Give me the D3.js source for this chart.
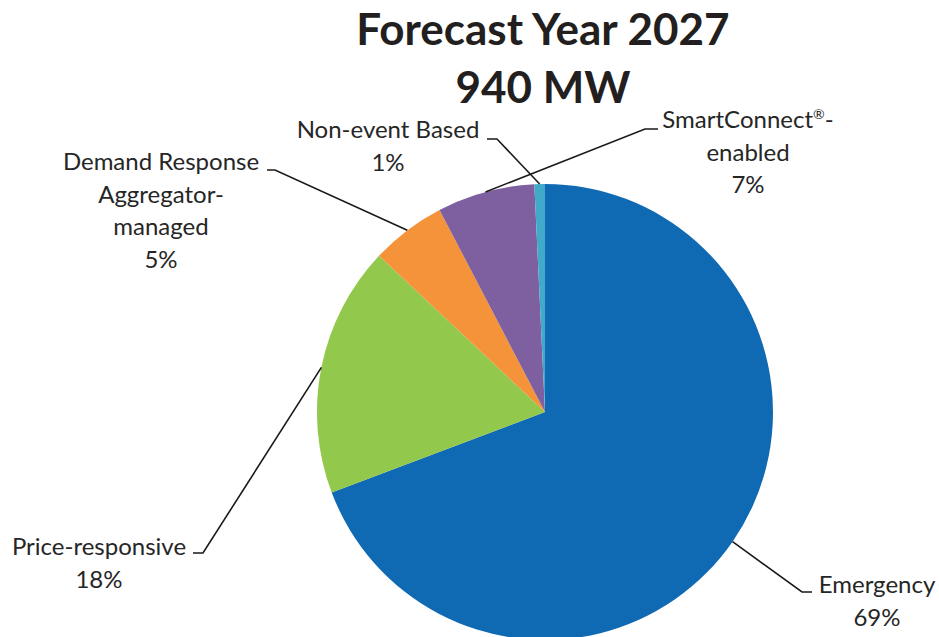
<!DOCTYPE html>
<html>
<head>
<meta charset="utf-8">
<script src="https://cdn.jsdelivr.net/npm/d3@7"></script>
<style>
  html, body { margin: 0; padding: 0; background: #ffffff; }
  svg { display: block; }
  text { font-family: Lato, "Open Sans", sans-serif; fill: #262626; }
</style>
</head>
<body>
<svg id="chart" width="939" height="637"></svg>
<script>
// Demand-response program mix, forecast year 2027 (MW)
const titleLines = ["Forecast Year 2027", "940 MW"];
const categories = ["Emergency", "Price-responsive", "Demand Response Aggregator-managed", "SmartConnect®-enabled", "Non-event Based"];
const values = [651, 167, 50, 65, 7];
const colors = ["#1069b3", "#92c84b", "#f5933a", "#7e60a0", "#41a9c9"];
// How each category name wraps onto lines in its label
const labelLines = [
  ["Emergency"],
  ["Price-responsive"],
  ["Demand Response", "Aggregator-", "managed"],
  ["SmartConnect®-", "enabled"],
  ["Non-event Based"]
];

// Layout: label centre / first baseline, and leader-line elbow points
const layout = [
  { cx: 877, y: 593, elbow: [802, 592], end: [812, 592] },
  { cx: 99,  y: 555, elbow: [203, 553], end: [193, 553] },
  { cx: 161, y: 170, elbow: [275, 170], end: [267, 170] },
  { cx: 748, y: 128, elbow: [645, 129], end: [658, 129] },
  { cx: 388, y: 138, elbow: [497, 139], end: [487, 139] }
];

const width = 939, height = 637;
const cx = 545, cy = 412, radius = 228;
const lineH = 32.5;

const svg = d3.select("#chart");

// Title
svg.append("g").selectAll("text")
  .data(titleLines)
  .join("text")
  .attr("x", 543)
  .attr("y", (d, i) => 45 + i * 58)
  .attr("text-anchor", "middle")
  .style("font-weight", "700")
  .style("font-size", "44px")
  .style("fill", "#231f20")
  .text(d => d);

const total = d3.sum(values);
const data = categories.map((c, i) => ({ name: c, value: values[i], color: colors[i], lines: labelLines[i], lay: layout[i] }));

const pie = d3.pie().sort(null).value(d => d.value);
const arcs = pie(data);
const arc = d3.arc().innerRadius(0).outerRadius(radius);
const edge = d3.arc().innerRadius(radius).outerRadius(radius);

const g = svg.append("g").attr("transform", `translate(${cx},${cy})`);

g.selectAll("path")
  .data(arcs)
  .join("path")
  .attr("d", arc)
  .attr("fill", d => d.data.color);

// Leader lines from slice edge to label
const line = d3.line();
svg.append("g").selectAll("path")
  .data(arcs)
  .join("path")
  .attr("d", d => {
    const p = edge.centroid(d);
    return line([[cx + p[0], cy + p[1]], d.data.lay.elbow, d.data.lay.end]);
  })
  .attr("fill", "none")
  .attr("stroke", "#1a1a1a")
  .attr("stroke-width", 1.6);

// Labels: category name lines plus rounded percentage
const fmt = d3.format(".0%");
const labels = svg.append("g").selectAll("text")
  .data(arcs)
  .join("text")
  .attr("text-anchor", "middle")
  .style("font-size", "24px");

labels.each(function(d) {
  const t = d3.select(this);
  const rows = d.data.lines.concat([fmt(d.data.value / total)]);
  rows.forEach((r, i) => {
    const row = t.append("tspan")
      .attr("x", d.data.lay.cx)
      .attr("y", d.data.lay.y + i * lineH);
    // registered mark is set small and raised
    const parts = r.split("®");
    parts.forEach((p, j) => {
      if (j > 0) {
        row.append("tspan")
          .style("font-size", "14px")
          .attr("dy", -9)
          .text("®");
        row.append("tspan").attr("dy", 9).text(p);
      } else {
        row.append("tspan").text(p);
      }
    });
  });
});
</script>
</body>
</html>
